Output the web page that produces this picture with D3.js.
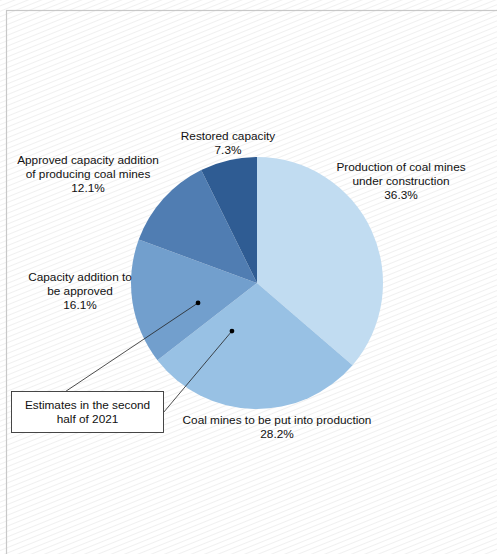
<!DOCTYPE html>
<html>
<head>
<meta charset="utf-8">
<script src="https://cdn.jsdelivr.net/npm/d3@7"></script>
<style>
  html, body { margin: 0; padding: 0; background: #ffffff; }
  svg { display: block; }
  text { font-family: "Liberation Sans", Arial, sans-serif; font-size: 11.8px; fill: #111; }
</style>
</head>
<body>
<svg id="chart" width="497" height="554"></svg>
<script>
// Shares of coal capacity, clockwise from 12 o'clock
const categories = [
  "Production of coal mines under construction",
  "Coal mines to be put into production",
  "Capacity addition to be approved",
  "Approved capacity addition of producing coal mines",
  "Restored capacity"
];
const shares = [36.3, 28.2, 16.1, 12.1, 7.3];
const sliceColors = ["#c1dcf1", "#98c1e4", "#729fcd", "#507db2", "#2f5c93"];
// Label lines as they wrap
const labelLines = [
  ["Production of coal mines", "under construction"],
  ["Coal mines to be put into production"],
  ["Capacity addition to", "be approved"],
  ["Approved capacity addition", "of producing coal mines"],
  ["Restored capacity"]
];
const calloutLines = ["Estimates in the second", "half of 2021"];
const calloutTargets = [2, 1]; // slices marked as second-half 2021 estimates

const svg = d3.select("#chart");
const W = 497, H = 554;

// faint diagonal hatching behind everything
const defs = svg.append("defs");
const pat = defs.append("pattern")
  .attr("id", "hatch").attr("patternUnits", "userSpaceOnUse")
  .attr("width", 6).attr("height", 5)
  .attr("patternTransform", "rotate(-22)");
pat.append("line").attr("x1", 0).attr("y1", 0.5).attr("x2", 6).attr("y2", 0.5)
  .attr("stroke", "#e6e6e6").attr("stroke-width", 1);
svg.append("rect").attr("width", W).attr("height", H).attr("fill", "#fff");
svg.append("rect").attr("width", W).attr("height", H).attr("fill", "url(#hatch)").attr("opacity", 0.6);

// outer frame
svg.append("rect").attr("x", 6.5).attr("y", 10.5).attr("width", W + 10).attr("height", H + 10)
  .attr("fill", "none").attr("stroke", "#c8c8c8").attr("stroke-width", 1.2);

const cx = 257, cy = 283, r = 126;
const pie = d3.pie().sort(null).value(d => d)(shares);
const arc = d3.arc().innerRadius(0).outerRadius(r);

const g = svg.append("g").attr("transform", `translate(${cx},${cy})`);
g.selectAll("path").data(pie).join("path")
  .attr("d", arc)
  .attr("fill", (d, i) => sliceColors[i]);

// label anchor points (relative to pie centre)
const labelPos = [
  [144, -112],
  [20, 141],
  [-177, -2],
  [-169, -119],
  [-29, -143]
];
labelPos.forEach((p, i) => {
  const lines = labelLines[i].concat([shares[i].toFixed(1) + "%"]);
  const t = g.append("text").attr("text-anchor", "middle")
    .attr("x", p[0]).attr("y", p[1]);
  lines.forEach((s, k) => {
    t.append("tspan").attr("x", p[0]).attr("dy", k === 0 ? 0 : 14).text(s);
  });
});

// callout box with leader lines to the estimated slices
const box = { x: 11.5, y: 391.5, w: 152, h: 41 };
const dotAt = [[0.33, 0.494], [0.757, 0.43]]; // [fraction across slice, fraction of radius]
const leaderStart = [[box.x + 54, box.y], [box.x + box.w, box.y + 21]];
calloutTargets.forEach((si, k) => {
  const d = pie[si];
  const a = d.startAngle + (d.endAngle - d.startAngle) * dotAt[k][0];
  const px = cx + Math.sin(a) * r * dotAt[k][1];
  const py = cy - Math.cos(a) * r * dotAt[k][1];
  svg.append("line")
    .attr("x1", leaderStart[k][0]).attr("y1", leaderStart[k][1])
    .attr("x2", px).attr("y2", py)
    .attr("stroke", "#222").attr("stroke-width", 0.8);
  svg.append("circle").attr("cx", px).attr("cy", py).attr("r", 2.4).attr("fill", "#000");
});
svg.append("rect").attr("x", box.x).attr("y", box.y).attr("width", box.w).attr("height", box.h)
  .attr("fill", "#fff").attr("stroke", "#333").attr("stroke-width", 0.9);
const bt = svg.append("text").attr("text-anchor", "middle");
calloutLines.forEach((s, k) => {
  bt.append("tspan").attr("x", box.x + box.w / 2).attr("y", box.y + 17 + k * 14.5).text(s);
});
</script>
</body>
</html>
